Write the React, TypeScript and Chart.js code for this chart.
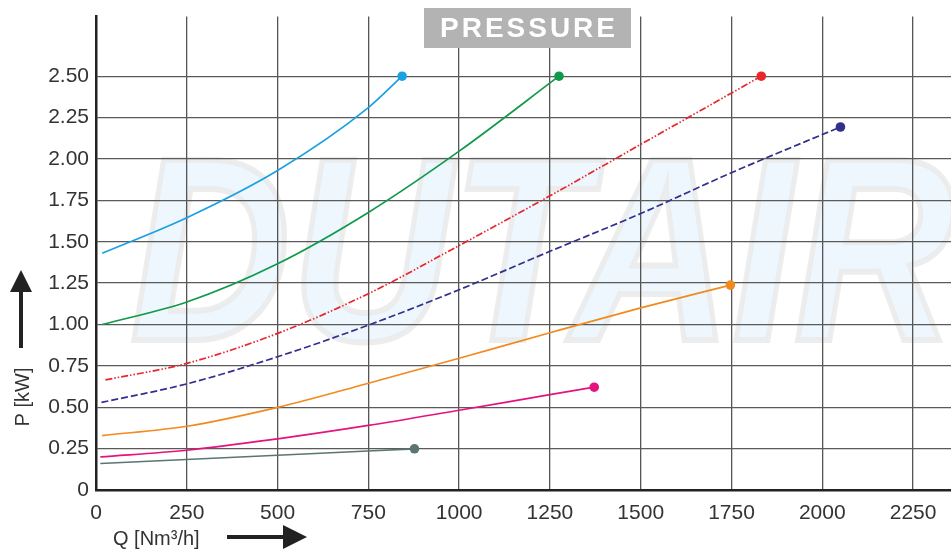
import { useEffect, useRef } from 'react';
import { Chart, registerables } from 'chart.js';

Chart.register(...registerables);

// ---- data (Q in Nm³/h, P in kW) ----
const X_TICKS = [0, 250, 500, 750, 1000, 1250, 1500, 1750, 2000, 2250];
const Y_TICKS = [0, 0.25, 0.5, 0.75, 1.0, 1.25, 1.5, 1.75, 2.0, 2.25, 2.5];

const Q_CYAN = [17, 250, 500, 750, 843];
const P_CYAN = [1.43, 1.645, 1.93, 2.31, 2.5];

const Q_GREEN = [17, 250, 500, 750, 1000, 1275];
const P_GREEN = [1.0, 1.136, 1.367, 1.677, 2.047, 2.5];

const Q_RED = [26, 250, 500, 750, 1000, 1250, 1500, 1832];
const P_RED = [0.665, 0.765, 0.946, 1.186, 1.477, 1.777, 2.088, 2.5];

const Q_NAVY = [15, 250, 500, 750, 1000, 1250, 1500, 1750, 2050];
const P_NAVY = [0.529, 0.641, 0.805, 0.996, 1.21, 1.442, 1.67, 1.917, 2.193];

const Q_ORANGE = [17, 250, 500, 750, 1000, 1250, 1500, 1747];
const P_ORANGE = [0.329, 0.385, 0.499, 0.645, 0.796, 0.95, 1.1, 1.238];

const Q_PINK = [12, 250, 500, 750, 1000, 1250, 1372];
const P_PINK = [0.2, 0.24, 0.309, 0.39, 0.482, 0.576, 0.621];

const Q_GRAY = [12, 500, 877];
const P_GRAY = [0.16, 0.21, 0.249];

const TITLE = 'PRESSURE';
const Y_LABEL = 'P [kW]';
const X_LABEL = 'Q [Nm³/h]';
const WATERMARK = 'DUTAIR';

const FONT = '"Liberation Sans", Arial, sans-serif';

// canvas is slightly larger than the page box so the plot reaches the right edge
const SHIFT_TOP = 3;
const EXTRA_RIGHT = 5;

function pts(q: number[], p: number[]) {
  return q.map((x, i) => ({ x, y: p[i] }));
}

function series(q: number[], p: number[], color: string, dash: number[] = []) {
  return {
    data: pts(q, p),
    borderColor: color,
    backgroundColor: color,
    borderWidth: 1.7,
    borderDash: dash,
    cubicInterpolationMode: 'monotone' as const,
    pointRadius: (ctx: any) => (ctx.dataIndex === ctx.dataset.data.length - 1 ? 4.8 : 0),
    pointHoverRadius: 0,
    pointBorderWidth: 0,
    fill: false,
  };
}

const decorPlugin = {
  id: 'decor',
  beforeDraw(chart: any) {
    const { ctx, chartArea } = chart;
    ctx.save();
    ctx.beginPath();
    ctx.rect(chartArea.left, chartArea.top, chartArea.right - chartArea.left, chartArea.bottom - chartArea.top);
    ctx.clip();
    ctx.translate(130, 340 + SHIFT_TOP);
    ctx.scale(0.85, 1);
    ctx.font = `italic bold 262px ${FONT}`;
    ctx.textBaseline = 'alphabetic';
    ctx.fillStyle = '#edf7fd';
    ctx.fillText(WATERMARK, 0, 0);
    ctx.strokeStyle = 'rgba(232,232,232,0.8)';
    ctx.lineWidth = 6;
    ctx.strokeText(WATERMARK, 0, 0);
    ctx.restore();
  },
  afterDraw(chart: any) {
    const { ctx } = chart;
    ctx.save();
    ctx.translate(0, SHIFT_TOP);
    // title box
    ctx.fillStyle = '#b3b3b3';
    ctx.fillRect(424, 8, 207, 40);
    ctx.fillStyle = '#ffffff';
    ctx.font = `bold 28px ${FONT}`;
    try { (ctx as any).letterSpacing = '3px'; } catch (e) { /* ignore */ }
    ctx.textAlign = 'center';
    ctx.textBaseline = 'middle';
    ctx.fillText(TITLE, 529, 29);
    try { (ctx as any).letterSpacing = '0px'; } catch (e) { /* ignore */ }

    // y axis label
    ctx.fillStyle = '#333';
    ctx.font = `20px ${FONT}`;
    ctx.save();
    ctx.translate(23, 397);
    ctx.rotate(-Math.PI / 2);
    ctx.textAlign = 'center';
    ctx.textBaseline = 'middle';
    ctx.fillText(Y_LABEL, 0, 0);
    ctx.restore();

    // y arrow
    ctx.fillStyle = '#222';
    ctx.fillRect(19, 290, 4, 58);
    ctx.beginPath();
    ctx.moveTo(21, 270);
    ctx.lineTo(32, 292);
    ctx.lineTo(10, 292);
    ctx.closePath();
    ctx.fill();

    // x axis label
    ctx.fillStyle = '#333';
    ctx.textAlign = 'left';
    ctx.textBaseline = 'alphabetic';
    ctx.fillText(X_LABEL, 113, 545);

    // x arrow
    ctx.fillStyle = '#222';
    ctx.fillRect(227, 535, 58, 4);
    ctx.beginPath();
    ctx.moveTo(307, 537);
    ctx.lineTo(283, 525);
    ctx.lineTo(283, 549);
    ctx.closePath();
    ctx.fill();
    ctx.restore();
  },
};

export default function App() {
  const ref = useRef<HTMLCanvasElement>(null);

  useEffect(() => {
    const tickFont = { family: FONT, size: 21 };
    const chart = new Chart(ref.current!, {
      type: 'line',
      data: {
        datasets: [
          series(Q_CYAN, P_CYAN, '#1ba1e2'),
          series(Q_GREEN, P_GREEN, '#0f9a4a'),
          series(Q_RED, P_RED, '#e8262b', [7, 2, 1.5, 2, 1.5, 2]),
          series(Q_NAVY, P_NAVY, '#33308c', [7, 3]),
          series(Q_ORANGE, P_ORANGE, '#f28a1e'),
          series(Q_PINK, P_PINK, '#e5137f'),
          series(Q_GRAY, P_GRAY, '#5a7573'),
        ] as any,
      },
      options: {
        animation: false,
        responsive: true,
        maintainAspectRatio: false,
        layout: { padding: { top: 13, right: 0, left: 0, bottom: 0 } },
        plugins: {
          legend: { display: false },
          tooltip: { enabled: false },
          title: { display: false },
        },
        scales: {
          x: {
            type: 'linear',
            min: 0,
            max: 2355,
            afterBuildTicks: (s: any) => {
              s.ticks = X_TICKS.map((v) => ({ value: v }));
            },
            afterFit: (s: any) => {
              s.height = 60;
            },
            grid: { color: '#555', lineWidth: 1.3, drawTicks: false },
            border: { display: true, color: '#222', width: 2.5 },
            ticks: {
              font: tickFont,
              color: '#333',
              padding: 11,
              maxRotation: 0,
              autoSkip: false,
              callback: (v: any) => String(v),
            },
          },
          y: {
            type: 'linear',
            min: 0,
            max: 2.86,
            afterBuildTicks: (s: any) => {
              s.ticks = Y_TICKS.map((v) => ({ value: v }));
            },
            afterFit: (s: any) => {
              s.width = 96;
            },
            grid: { color: '#5a5a5a', lineWidth: 1.3, drawTicks: false },
            border: { display: true, color: '#222', width: 2.5 },
            ticks: {
              font: tickFont,
              color: '#333',
              padding: 7,
              autoSkip: false,
              callback: (v: any) => (Number(v) === 0 ? '0' : Number(v).toFixed(2)),
            },
          },
        },
      },
      plugins: [decorPlugin],
    });
    return () => chart.destroy();
  }, []);

  return (
    <div style={{ position: 'fixed', left: 0, top: 0, width: 951, height: 550, overflow: 'hidden', background: '#fff' }}>
      <div style={{ position: 'absolute', left: 0, top: -SHIFT_TOP, width: 951 + EXTRA_RIGHT, height: 550 + SHIFT_TOP }}>
        <canvas ref={ref} />
      </div>
    </div>
  );
}
